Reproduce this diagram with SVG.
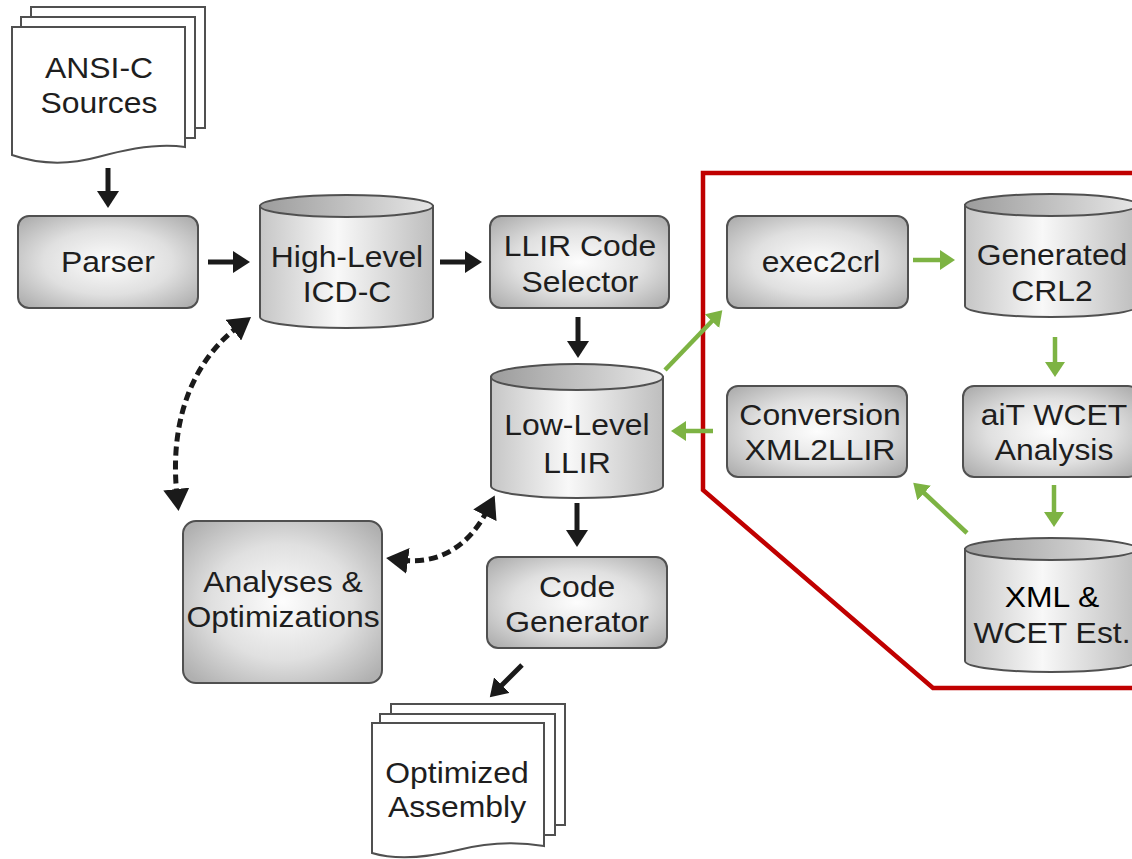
<svg xmlns="http://www.w3.org/2000/svg" width="1132" height="859" viewBox="0 0 1132 859">
<defs>
  <radialGradient id="boxG" cx="50%" cy="50%" r="65%">
    <stop offset="0" stop-color="#fdfdfd"/>
    <stop offset="0.55" stop-color="#e0e0e0"/>
    <stop offset="1" stop-color="#b0b0b0"/>
  </radialGradient>
  <linearGradient id="cylBody" x1="0" y1="0" x2="1" y2="0">
    <stop offset="0" stop-color="#c6c6c6"/>
    <stop offset="0.45" stop-color="#f8f8f8"/>
    <stop offset="1" stop-color="#bebebe"/>
  </linearGradient>
  <linearGradient id="cylTop" x1="0" y1="0" x2="1" y2="0">
    <stop offset="0" stop-color="#9c9c9c"/>
    <stop offset="1" stop-color="#e6e6e6"/>
  </linearGradient>
  <marker id="ah" markerUnits="userSpaceOnUse" markerWidth="18" markerHeight="22" refX="4" refY="11" orient="auto">
    <path d="M0,0 L17,11 L0,22 z" fill="#1a1a1a"/>
  </marker>
  <marker id="ahg" markerUnits="userSpaceOnUse" markerWidth="16" markerHeight="20" refX="3" refY="10" orient="auto">
    <path d="M0,0 L15,10 L0,20 z" fill="#7db343"/>
  </marker>
  <marker id="ahd" markerUnits="userSpaceOnUse" markerWidth="24" markerHeight="26" refX="7" refY="13" orient="auto-start-reverse">
    <path d="M0,0 L22,13 L0,26 z" fill="#1a1a1a"/>
  </marker>
  <style>
    .box{fill:url(#boxG);stroke:#505050;stroke-width:2}
    .cyl{fill:url(#cylBody);stroke:#505050;stroke-width:2}
    .cyltop{fill:url(#cylTop);stroke:#505050;stroke-width:2}
    .page{fill:#fff;stroke:#505050;stroke-width:2}
    .t{font-family:"Liberation Sans",Arial,sans-serif;font-size:29px;fill:#1e1e1e;text-anchor:middle}
    .blk{fill:none;stroke:#1a1a1a;stroke-width:5;marker-end:url(#ah)}
    .grn{fill:none;stroke:#7db343;stroke-width:4.5;marker-end:url(#ahg)}
    .dash{fill:none;stroke:#1a1a1a;stroke-width:5;stroke-dasharray:9 5;marker-start:url(#ahd);marker-end:url(#ahd)}
    .frame{fill:none;stroke:#c00000;stroke-width:4.5;stroke-linejoin:miter}
  </style>
</defs>
<rect width="1132" height="859" fill="#fff"/>

<g id="frame">
  <polyline class="frame" points="1140,173 703,173 703,490 933,688 1140,688"/>
</g>

<g id="ansi-c-sources">
  <rect class="page" x="31" y="7" width="174" height="121"/>
  <rect class="page" x="21" y="17" width="174" height="121"/>
  <path class="page" d="M12,27 H185 V147 C160,143 130,148 98,157 C65,166 38,164 12,155 Z"/>
  <text class="t" transform="translate(99,0) scale(1.1,1)" x="0" y="78">ANSI-C</text>
  <text class="t" transform="translate(99,0) scale(1.1,1)" x="0" y="113">Sources</text>
</g>

<g id="parser">
  <rect class="box" x="18" y="216" width="180" height="92" rx="11"/>
  <text class="t" transform="translate(108,0) scale(1.1,1)" x="0" y="272">Parser</text>
</g>

<g id="high-level">
  <path class="cyl" d="M260,206 V317 A86.5,11 0 0 0 433,317 V206 Z"/>
  <ellipse class="cyltop" cx="346.5" cy="206" rx="86.5" ry="11"/>
  <text class="t" transform="translate(347,0) scale(1.1,1)" x="0" y="267">High-Level</text>
  <text class="t" transform="translate(347,0) scale(1.1,1)" x="0" y="302">ICD-C</text>
</g>

<g id="llir-code-selector">
  <rect class="box" x="490" y="216" width="179" height="92" rx="11"/>
  <text class="t" transform="translate(580,0) scale(1.1,1)" x="0" y="256">LLIR Code</text>
  <text class="t" transform="translate(580,0) scale(1.1,1)" x="0" y="292">Selector</text>
</g>

<g id="low-level">
  <path class="cyl" d="M491,377 V486 A86,12 0 0 0 663,486 V377 Z"/>
  <ellipse class="cyltop" cx="577" cy="377" rx="86" ry="13"/>
  <text class="t" transform="translate(577,0) scale(1.1,1)" x="0" y="435">Low-Level</text>
  <text class="t" transform="translate(577,0) scale(1.1,1)" x="0" y="473">LLIR</text>
</g>

<g id="code-generator">
  <rect class="box" x="487" y="557" width="180" height="91" rx="11"/>
  <text class="t" transform="translate(577,0) scale(1.1,1)" x="0" y="597">Code</text>
  <text class="t" transform="translate(577,0) scale(1.1,1)" x="0" y="632">Generator</text>
</g>

<g id="optimized-assembly">
  <rect class="page" x="391" y="704" width="174" height="121"/>
  <rect class="page" x="380" y="714" width="175" height="121"/>
  <path class="page" d="M372,723 H544 V846 C520,842 490,842 458,850 C425,858 395,860 372,853 Z"/>
  <text class="t" transform="translate(457,0) scale(1.1,1)" x="0" y="783">Optimized</text>
  <text class="t" transform="translate(457,0) scale(1.1,1)" x="0" y="817">Assembly</text>
</g>

<g id="analyses-optimizations">
  <rect class="box" x="183" y="521" width="199" height="162" rx="13"/>
  <text class="t" transform="translate(283,0) scale(1.1,1)" x="0" y="592">Analyses &amp;</text>
  <text class="t" transform="translate(283,0) scale(1.1,1)" x="0" y="627">Optimizations</text>
</g>

<g id="exec2crl">
  <rect class="box" x="727" y="216" width="181" height="92" rx="11"/>
  <text class="t" transform="translate(821,0) scale(1.1,1)" x="0" y="272">exec2crl</text>
</g>

<g id="generated-crl2">
  <path class="cyl" d="M965,205 V306 A86,11 0 0 0 1137,306 V205 Z"/>
  <ellipse class="cyltop" cx="1051" cy="205" rx="86" ry="11"/>
  <text class="t" transform="translate(1052,0) scale(1.1,1)" x="0" y="265">Generated</text>
  <text class="t" transform="translate(1052,0) scale(1.1,1)" x="0" y="301">CRL2</text>
</g>

<g id="ait-wcet-analysis">
  <rect class="box" x="963" y="386" width="176" height="91" rx="11"/>
  <text class="t" transform="translate(1054,0) scale(1.1,1)" x="0" y="425">aiT WCET</text>
  <text class="t" transform="translate(1054,0) scale(1.1,1)" x="0" y="460">Analysis</text>
</g>

<g id="conversion-xml2llir">
  <rect class="box" x="727" y="386" width="180" height="91" rx="11"/>
  <text class="t" transform="translate(820,0) scale(1.1,1)" x="0" y="425">Conversion</text>
  <text class="t" transform="translate(820,0) scale(1.1,1)" x="0" y="460">XML2LLIR</text>
</g>

<g id="xml-wcet-est">
  <path class="cyl" d="M965,549 V661 A86,11 0 0 0 1137,661 V549 Z"/>
  <ellipse class="cyltop" cx="1051" cy="549" rx="86" ry="11"/>
  <text class="t" transform="translate(1052,0) scale(1.1,1)" x="0" y="607" style="fill:#000">XML &amp;</text>
  <text class="t" transform="translate(1052,0) scale(1.1,1)" x="0" y="643">WCET Est.</text>
</g>

<g id="connectors">
  <path class="blk" d="M108,168 V195"/>
  <path class="blk" d="M208,262 H237"/>
  <path class="blk" d="M440,262 H469"/>
  <path class="blk" d="M578,317 V345"/>
  <path class="blk" d="M577,503 V534"/>
  <path class="blk" d="M522,665 L499,688"/>
  <path class="grn" d="M913,260 H943"/>
  <path class="grn" d="M1055,337 V365"/>
  <path class="grn" d="M1054,485 V515"/>
  <path class="grn" d="M967,533 L922,491"/>
  <path class="grn" d="M713,431 H683"/>
  <path class="grn" d="M665,370 L714,319"/>
  <path class="dash" d="M239,326 C200,355 168,410 177,496"/>
  <path class="dash" d="M401,560 C440,565 470,545 488,509"/>
</g>
</svg>
